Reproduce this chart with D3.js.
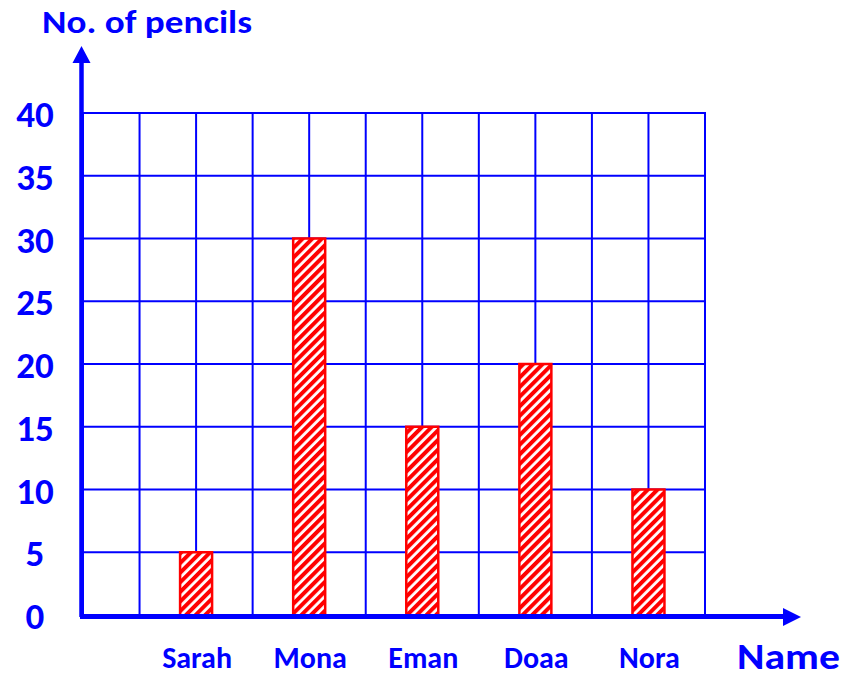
<!DOCTYPE html>
<html>
<head>
<meta charset="utf-8">
<script src="https://cdn.jsdelivr.net/npm/d3@7"></script>
<style>
  html, body { margin: 0; padding: 0; background: #fff; }
  svg text { font-family: Carlito, Lato, "Open Sans", sans-serif; font-weight: bold; fill: #0000ff; }
</style>
</head>
<body>
<svg id="chart" width="856" height="678"></svg>
<script>
// Pencils owned by each child
const names = ["Sarah", "Mona", "Eman", "Doaa", "Nora"];
const pencils = [5, 30, 15, 20, 10];
const yTicks = [0, 5, 10, 15, 20, 25, 30, 35, 40];
// grid column index where each bar sits
const slots = [2, 4, 6, 8, 10];
const yTitle = "No. of pencils";
const xTitle = "Name";

const BLUE = "#0000ff", RED = "#ff0000";
const svg = d3.select("#chart");

const gridLeft = 83, gridRight = 705, gridTop = 113, gridBottom = 615;
const nCols = 11;

const x = d3.scaleLinear().domain([0, nCols]).range([gridLeft, gridRight]);
const y = d3.scaleLinear().domain([0, 40]).range([gridBottom, gridTop]);

// diagonal hatch for the bars
const defs = svg.append("defs");
const pat = defs.append("pattern")
  .attr("id", "hatch")
  .attr("patternUnits", "userSpaceOnUse")
  .attr("width", 6.8).attr("height", 6.8)
  .attr("patternTransform", "rotate(45)");
pat.append("rect").attr("width", 6.8).attr("height", 6.8).attr("fill", "#fff");
pat.append("rect").attr("x", 0).attr("width", 4.0).attr("height", 6.8).attr("fill", RED);
defs.append("filter").attr("id", "soft")
  .attr("x", 0).attr("y", 0).attr("width", 1).attr("height", 1)
  .append("feGaussianBlur").attr("stdDeviation", 0.45);

// grid
const grid = svg.append("g");
grid.selectAll("line.h").data(yTicks).join("line")
  .attr("x1", gridLeft).attr("x2", gridRight)
  .attr("y1", d => y(d)).attr("y2", d => y(d))
  .attr("stroke", BLUE).attr("stroke-width", 2);
grid.selectAll("line.v").data(d3.range(nCols + 1)).join("line")
  .attr("x1", d => x(d)).attr("x2", d => x(d))
  .attr("y1", gridTop - 1).attr("y2", gridBottom)
  .attr("stroke", BLUE).attr("stroke-width", 2);

// bars: soft hatched fill, then a crisp red outline
const barW = 32;
const bars = svg.append("g").selectAll("g").data(pencils).join("g");
bars.append("rect")
  .attr("x", (d, i) => x(slots[i]) - barW / 2)
  .attr("y", d => y(d))
  .attr("width", barW)
  .attr("height", d => y(0) - y(d) + 1)
  .attr("fill", "url(#hatch)")
  .attr("filter", "url(#soft)");
bars.append("rect")
  .attr("x", (d, i) => x(slots[i]) - barW / 2)
  .attr("y", d => y(d))
  .attr("width", barW)
  .attr("height", d => y(0) - y(d) + 1)
  .attr("fill", "none")
  .attr("stroke", RED).attr("stroke-width", 2.5);

// axes with arrows
svg.append("line").attr("x1", 81.5).attr("x2", 81.5).attr("y1", 617).attr("y2", 60)
  .attr("stroke", BLUE).attr("stroke-width", 4.5);
svg.append("path").attr("d", "M81.5,46 L90.5,63 L72.5,63 Z").attr("fill", BLUE);
svg.append("line").attr("x1", 80).attr("x2", 786).attr("y1", 616.5).attr("y2", 616.5)
  .attr("stroke", BLUE).attr("stroke-width", 5);
svg.append("path").attr("d", "M801,617 L783,608 L783,626 Z").attr("fill", BLUE);

// y tick labels
svg.append("g").selectAll("text").data(yTicks).join("text")
  .attr("x", 35).attr("y", d => y(d) + 14)
  .attr("text-anchor", "middle")
  .attr("font-size", 37)
  .text(d => d);

// category labels
svg.append("g").selectAll("text").data(names).join("text")
  .attr("x", (d, i) => x(slots[i]) + 1).attr("y", 668)
  .attr("text-anchor", "middle")
  .attr("font-size", 30)
  .text(d => d);

svg.append("text").attr("x", 42).attr("y", 33).attr("font-size", 33)
  .attr("textLength", 210).attr("lengthAdjust", "spacingAndGlyphs").text(yTitle);
svg.append("text").attr("x", 737).attr("y", 669).attr("font-size", 36)
  .attr("textLength", 103).attr("lengthAdjust", "spacingAndGlyphs").text(xTitle);
</script>
</body>
</html>
